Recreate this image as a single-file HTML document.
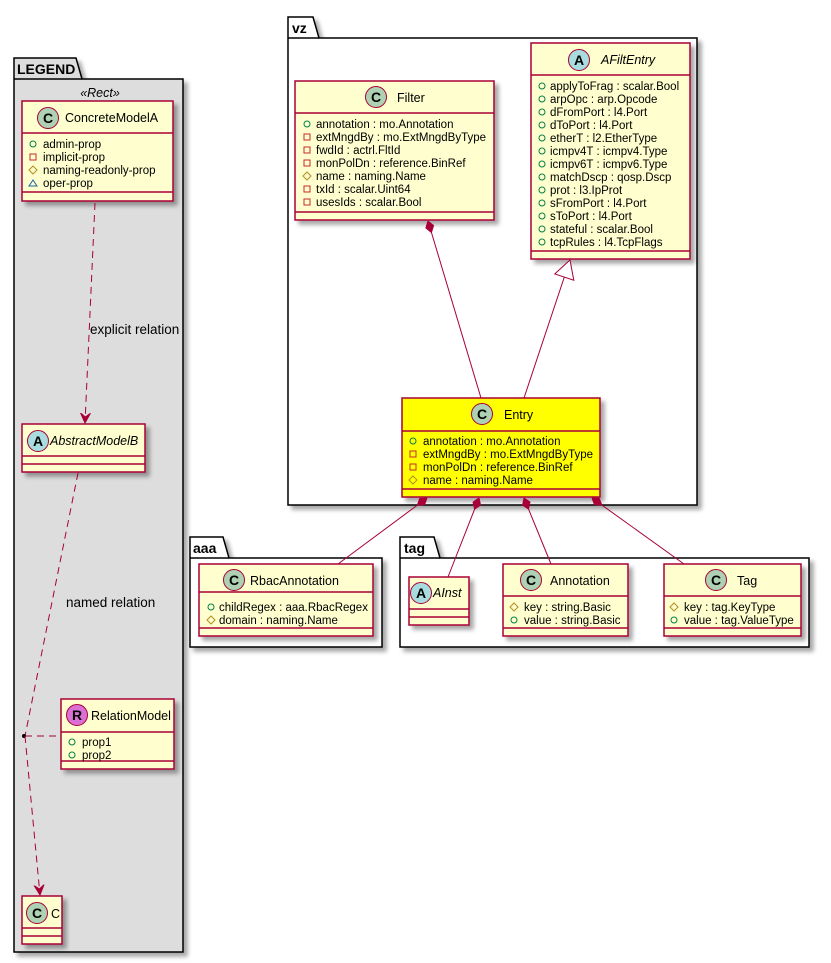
<!DOCTYPE html>
<html><head><meta charset="utf-8"><style>
html,body{margin:0;padding:0;background:#fff;}
svg{display:block;font-family:"Liberation Sans",sans-serif;}
.b{fill:#FEFECE;stroke:#A80036;stroke-width:1.5;filter:url(#sh);}
.l{stroke:#A80036;stroke-width:1.5;}
.n{font-size:12.5px;fill:#000;}
.a{font-size:11.5px;fill:#000;}
.e{stroke:#A80036;stroke-width:1;fill:none;}
.d{stroke:#A80036;stroke-width:1;fill:none;stroke-dasharray:7,5;}
.pk{fill:#fff;stroke:#000;stroke-width:1.5;filter:url(#sh);}
.pn{font-size:14px;font-weight:bold;}
.ci{stroke:#A80036;stroke-width:1;}
.ct{font-size:14px;font-weight:bold;text-anchor:middle;}
.pub{fill:none;stroke:#038048;stroke-width:1;}
.pri{fill:none;stroke:#C82930;stroke-width:1;}
.pro{fill:none;stroke:#B38D22;stroke-width:1;}
.pkg{fill:none;stroke:#1963A0;stroke-width:1;}
</style></head><body>
<svg width="831" height="963" viewBox="0 0 831 963" xmlns="http://www.w3.org/2000/svg">
<defs>
<filter id="sh" x="-10%" y="-10%" width="130%" height="130%"><feDropShadow dx="4" dy="4" stdDeviation="2" flood-color="#000" flood-opacity="0.35"/></filter>
<marker id="dm" markerUnits="userSpaceOnUse" markerWidth="14" markerHeight="10" refX="0" refY="5" orient="auto" viewBox="0 0 14 10"><polygon points="0,5 6,1 12,5 6,9" fill="#A80036" stroke="#A80036"/></marker>
<marker id="ar" markerUnits="userSpaceOnUse" markerWidth="12" markerHeight="12" refX="10" refY="6" orient="auto" viewBox="0 0 12 12"><polygon points="0,1 10,6 0,11 4,6" fill="#A80036" stroke="#A80036"/></marker>
<marker id="tr" markerUnits="userSpaceOnUse" markerWidth="22" markerHeight="24" refX="19" refY="12" orient="auto" viewBox="0 0 22 24"><polygon points="1,2 19,12 1,22" fill="#fff" stroke="#A80036"/></marker>
</defs>

<!-- LEGEND package -->
<path class="pk" d="M14,79 L14,58 L76,58 L82,79 L183,79 L183,952 L14,952 Z" style="fill:#DDDDDD"/>
<line x1="14" y1="79" x2="82" y2="79" stroke="#000" stroke-width="1.5"/>
<text class="pn" x="17" y="74">LEGEND</text>
<text x="100" y="97" font-size="12.5" font-style="italic" text-anchor="middle">«Rect»</text>

<rect class="b" x="22" y="101" width="151" height="100"/>
<line class="l" x1="22" y1="133" x2="173" y2="133"/><line class="l" x1="22" y1="192" x2="173" y2="192"/>
<circle class="ci" cx="48" cy="118" r="10.5" fill="#ADD1B2"/><text class="ct" x="48" y="123">C</text>
<text class="n" x="65" y="122">ConcreteModelA</text>
<circle class="pub" cx="33" cy="144" r="3"/><text class="a" x="43" y="148">admin-prop</text>
<rect class="pri" x="30" y="154" width="6" height="6"/><text class="a" x="43" y="161">implicit-prop</text>
<polygon class="pro" points="33,166 37,170 33,174 29,170"/><text class="a" x="43" y="174">naming-readonly-prop</text>
<polygon class="pkg" points="33,180 37,186 29,186"/><text class="a" x="43" y="187">oper-prop</text>

<path class="d" d="M95,203 L85,423" marker-end="url(#ar)"/>
<text x="90" y="334" font-size="13.5">explicit relation</text>

<rect class="b" x="22" y="424" width="123" height="48"/>
<line class="l" x1="22" y1="456" x2="145" y2="456"/><line class="l" x1="22" y1="464" x2="145" y2="464"/>
<circle class="ci" cx="38" cy="441" r="10.5" fill="#A9DCDF"/><text class="ct" x="38" y="446">A</text>
<text class="n" x="50" y="445" font-style="italic">AbstractModelB</text>

<path class="d" d="M78,473 L25,736"/>
<text x="66" y="607" font-size="13.5">named relation</text>
<circle cx="24" cy="736" r="2" fill="#000"/>
<path class="d" d="M25,736 L61,736"/>
<path class="d" d="M25,736 L40,895" marker-end="url(#ar)"/>

<rect class="b" x="61" y="699" width="113" height="70"/>
<line class="l" x1="61" y1="732" x2="174" y2="732"/><line class="l" x1="61" y1="761" x2="174" y2="761"/>
<circle class="ci" cx="77" cy="715" r="10.5" fill="#DA70D6"/><text class="ct" x="77" y="720">R</text>
<text class="n" x="91" y="720">RelationModel</text>
<circle class="pub" cx="72" cy="742" r="3"/><text class="a" x="82" y="746">prop1</text>
<circle class="pub" cx="72" cy="755" r="3"/><text class="a" x="82" y="759">prop2</text>

<rect class="b" x="22" y="896" width="40" height="48"/>
<line class="l" x1="22" y1="928" x2="62" y2="928"/><line class="l" x1="22" y1="936" x2="62" y2="936"/>
<circle class="ci" cx="37" cy="913" r="10.5" fill="#ADD1B2"/><text class="ct" x="37" y="918">C</text>
<text class="n" x="51" y="918">C</text>

<!-- vz package -->
<path class="pk" d="M288,38 L288,17 L313,17 L319,38 L697,38 L697,505 L288,505 Z"/>
<line x1="288" y1="38" x2="319" y2="38" stroke="#000" stroke-width="1.5"/>
<text class="pn" x="292" y="33">vz</text>

<rect class="b" x="295" y="81" width="199" height="139"/>
<line class="l" x1="295" y1="113" x2="494" y2="113"/><line class="l" x1="295" y1="212" x2="494" y2="212"/>
<circle class="ci" cx="376" cy="97" r="10.5" fill="#ADD1B2"/><text class="ct" x="376" y="102">C</text>
<text class="n" x="397" y="102">Filter</text>
<circle class="pub" cx="307" cy="124" r="3"/><text class="a" x="316" y="128">annotation : mo.Annotation</text>
<rect class="pri" x="304" y="134" width="6" height="6"/><text class="a" x="316" y="141">extMngdBy : mo.ExtMngdByType</text>
<rect class="pri" x="304" y="147" width="6" height="6"/><text class="a" x="316" y="154">fwdId : actrl.FltId</text>
<rect class="pri" x="304" y="160" width="6" height="6"/><text class="a" x="316" y="167">monPolDn : reference.BinRef</text>
<polygon class="pro" points="307,172 311,176 307,180 303,176"/><text class="a" x="316" y="180">name : naming.Name</text>
<rect class="pri" x="304" y="186" width="6" height="6"/><text class="a" x="316" y="193">txId : scalar.Uint64</text>
<rect class="pri" x="304" y="199" width="6" height="6"/><text class="a" x="316" y="206">usesIds : scalar.Bool</text>

<rect class="b" x="531" y="43" width="159" height="216"/>
<line class="l" x1="531" y1="75" x2="690" y2="75"/><line class="l" x1="531" y1="251" x2="690" y2="251"/>
<circle class="ci" cx="579" cy="60" r="10.5" fill="#A9DCDF"/><text class="ct" x="579" y="65">A</text>
<text class="n" x="601" y="64" font-style="italic">AFiltEntry</text>
<g>
<circle class="pub" cx="542" cy="86" r="3"/><text class="a" x="550" y="90">applyToFrag : scalar.Bool</text>
<circle class="pub" cx="542" cy="99" r="3"/><text class="a" x="550" y="103">arpOpc : arp.Opcode</text>
<circle class="pub" cx="542" cy="112" r="3"/><text class="a" x="550" y="116">dFromPort : l4.Port</text>
<circle class="pub" cx="542" cy="125" r="3"/><text class="a" x="550" y="129">dToPort : l4.Port</text>
<circle class="pub" cx="542" cy="138" r="3"/><text class="a" x="550" y="142">etherT : l2.EtherType</text>
<circle class="pub" cx="542" cy="151" r="3"/><text class="a" x="550" y="155">icmpv4T : icmpv4.Type</text>
<circle class="pub" cx="542" cy="164" r="3"/><text class="a" x="550" y="168">icmpv6T : icmpv6.Type</text>
<circle class="pub" cx="542" cy="177" r="3"/><text class="a" x="550" y="181">matchDscp : qosp.Dscp</text>
<circle class="pub" cx="542" cy="190" r="3"/><text class="a" x="550" y="194">prot : l3.IpProt</text>
<circle class="pub" cx="542" cy="203" r="3"/><text class="a" x="550" y="207">sFromPort : l4.Port</text>
<circle class="pub" cx="542" cy="216" r="3"/><text class="a" x="550" y="220">sToPort : l4.Port</text>
<circle class="pub" cx="542" cy="229" r="3"/><text class="a" x="550" y="233">stateful : scalar.Bool</text>
<circle class="pub" cx="542" cy="242" r="3"/><text class="a" x="550" y="246">tcpRules : l4.TcpFlags</text>
</g>

<path class="e" d="M428,221 L481,398" marker-start="url(#dm)"/>
<path class="e" d="M524,398 L570,260" marker-end="url(#tr)"/>

<rect class="b" x="402" y="398" width="198" height="99" style="fill:#FFFF00"/>
<line class="l" x1="402" y1="431" x2="600" y2="431"/><line class="l" x1="402" y1="489" x2="600" y2="489"/>
<circle class="ci" cx="482" cy="414" r="10.5" fill="#ADD1B2"/><text class="ct" x="482" y="419">C</text>
<text class="n" x="504" y="419">Entry</text>
<circle class="pub" cx="413" cy="441" r="3"/><text class="a" x="423" y="445">annotation : mo.Annotation</text>
<rect class="pri" x="410" y="451" width="6" height="6"/><text class="a" x="423" y="458">extMngdBy : mo.ExtMngdByType</text>
<rect class="pri" x="410" y="464" width="6" height="6"/><text class="a" x="423" y="471">monPolDn : reference.BinRef</text>
<polygon class="pro" points="413,476 417,480 413,484 409,480"/><text class="a" x="423" y="484">name : naming.Name</text>

<!-- aaa package -->
<path class="pk" d="M190,558 L190,537 L223,537 L229,558 L382,558 L382,647 L190,647 Z"/>
<line x1="190" y1="558" x2="229" y2="558" stroke="#000" stroke-width="1.5"/>
<text class="pn" x="193" y="553">aaa</text>

<rect class="b" x="199" y="564" width="174" height="72"/>
<line class="l" x1="199" y1="592" x2="373" y2="592"/><line class="l" x1="199" y1="628" x2="373" y2="628"/>
<circle class="ci" cx="234" cy="580" r="10.5" fill="#ADD1B2"/><text class="ct" x="234" y="585">C</text>
<text class="n" x="250" y="585">RbacAnnotation</text>
<circle class="pub" cx="211" cy="607" r="3"/><text class="a" x="219" y="611">childRegex : aaa.RbacRegex</text>
<polygon class="pro" points="211,616 215,620 211,624 207,620"/><text class="a" x="219" y="624">domain : naming.Name</text>

<!-- tag package -->
<path class="pk" d="M400,558 L400,537 L434,537 L440,558 L809,558 L809,647 L400,647 Z"/>
<line x1="400" y1="558" x2="440" y2="558" stroke="#000" stroke-width="1.5"/>
<text class="pn" x="404" y="553">tag</text>

<rect class="b" x="409" y="577" width="60" height="48"/>
<line class="l" x1="409" y1="609" x2="469" y2="609"/><line class="l" x1="409" y1="617" x2="469" y2="617"/>
<circle class="ci" cx="421" cy="593" r="10.5" fill="#A9DCDF"/><text class="ct" x="421" y="598">A</text>
<text class="n" x="433" y="597" font-style="italic">AInst</text>

<rect class="b" x="503" y="564" width="125" height="72"/>
<line class="l" x1="503" y1="596" x2="628" y2="596"/><line class="l" x1="503" y1="628" x2="628" y2="628"/>
<circle class="ci" cx="531" cy="580" r="10.5" fill="#ADD1B2"/><text class="ct" x="531" y="585">C</text>
<text class="n" x="550" y="585">Annotation</text>
<polygon class="pro" points="514,603 518,607 514,611 510,607"/><text class="a" x="524" y="611">key : string.Basic</text>
<circle class="pub" cx="514" cy="620" r="3"/><text class="a" x="524" y="624">value : string.Basic</text>

<rect class="b" x="664" y="564" width="137" height="72"/>
<line class="l" x1="664" y1="596" x2="801" y2="596"/><line class="l" x1="664" y1="628" x2="801" y2="628"/>
<circle class="ci" cx="716" cy="580" r="10.5" fill="#ADD1B2"/><text class="ct" x="716" y="585">C</text>
<text class="n" x="737" y="585">Tag</text>
<polygon class="pro" points="674,603 678,607 674,611 670,607"/><text class="a" x="684" y="611">key : tag.KeyType</text>
<circle class="pub" cx="674" cy="620" r="3"/><text class="a" x="684" y="624">value : tag.ValueType</text>

<!-- composition edges from Entry -->
<path class="e" d="M427,498 L338,564" marker-start="url(#dm)"/>
<path class="e" d="M479,498 L448,577" marker-start="url(#dm)"/>
<path class="e" d="M524,498 L551,564" marker-start="url(#dm)"/>
<path class="e" d="M592,498 L684,564" marker-start="url(#dm)"/>
</svg>
</body></html>
